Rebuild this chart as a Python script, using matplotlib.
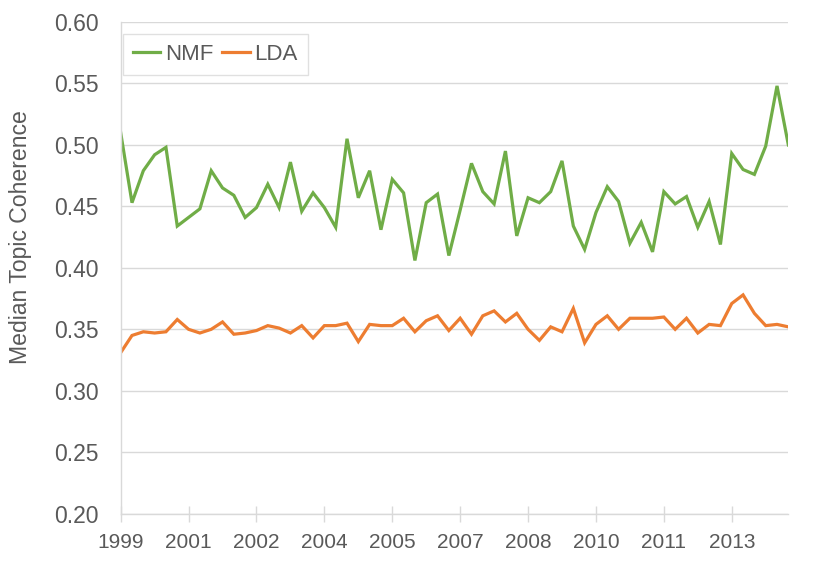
import matplotlib
matplotlib.use('Agg')
import matplotlib.pyplot as plt

# median topic coherence, one value per quarter
nmf = [0.510, 0.453, 0.479, 0.492, 0.498, 0.434, 0.441, 0.448, 0.479, 0.465,
       0.459, 0.441, 0.449, 0.468, 0.449, 0.486, 0.446, 0.461, 0.449, 0.433,
       0.505, 0.457, 0.479, 0.431, 0.472, 0.461, 0.406, 0.453, 0.460, 0.410,
       0.447, 0.485, 0.462, 0.452, 0.495, 0.426, 0.457, 0.453, 0.462, 0.487,
       0.434, 0.415, 0.445, 0.466, 0.454, 0.420, 0.437, 0.413, 0.462, 0.452,
       0.458, 0.433, 0.454, 0.419, 0.493, 0.480, 0.476, 0.499, 0.548, 0.500]
lda = [0.331, 0.345, 0.348, 0.347, 0.348, 0.358, 0.350, 0.347, 0.350, 0.356,
       0.346, 0.347, 0.349, 0.353, 0.351, 0.347, 0.353, 0.343, 0.353, 0.353,
       0.355, 0.340, 0.354, 0.353, 0.353, 0.359, 0.348, 0.357, 0.361, 0.349,
       0.359, 0.346, 0.361, 0.365, 0.356, 0.363, 0.350, 0.341, 0.352, 0.348,
       0.367, 0.339, 0.354, 0.361, 0.350, 0.359, 0.359, 0.359, 0.360, 0.350,
       0.359, 0.347, 0.354, 0.353, 0.371, 0.378, 0.363, 0.353, 0.354, 0.352]
tick_labels = ['1999', '2001', '2002', '2004', '2005', '2007', '2008', '2010', '2011', '2013']

plt.rcParams['font.family'] = ['Liberation Sans', 'DejaVu Sans']
grey = '#d9d9d9'
txt = '#595959'

fig = plt.figure(figsize=(8.3, 5.62), dpi=100)
ax = fig.add_axes([0.1454, 0.0859, 0.8044, 0.875])

x = list(range(len(nmf)))
ax.plot(x, nmf, color='#70ad47', lw=2.3, label='NMF', solid_joinstyle='miter')
ax.plot(x, lda, color='#ed7d31', lw=2.3, label='LDA', solid_joinstyle='miter')

ax.set_xlim(0, len(nmf) - 1)
ax.set_ylim(0.20, 0.60)
ax.set_yticks([0.20, 0.25, 0.30, 0.35, 0.40, 0.45, 0.50, 0.55, 0.60])
ax.set_yticklabels(['%.2f' % v for v in ax.get_yticks()])
ax.set_xticks(range(0, 6 * len(tick_labels), 6))
ax.set_xticklabels(tick_labels)

ax.grid(axis='y', color=grey, lw=1.0)
ax.set_axisbelow(True)
for s in ['top', 'right']:
    ax.spines[s].set_visible(False)
for s in ['left', 'bottom']:
    ax.spines[s].set_color(grey)
    ax.spines[s].set_linewidth(1.0)

ax.tick_params(axis='y', length=0, pad=16, labelsize=16.5, labelcolor=txt)
ax.tick_params(axis='x', direction='inout', length=12, width=1.0, color=grey,
               pad=8, labelsize=15, labelcolor=txt)
ax.set_ylabel('Median Topic Coherence', fontsize=16.6, color=txt)
ax.yaxis.set_label_coords(-0.133, 0.563)

leg = ax.legend(loc='upper left', bbox_to_anchor=(0.003, 0.976), borderaxespad=0,
                ncol=2, fontsize=16, frameon=True, fancybox=False, edgecolor=grey,
                handlelength=1.25, handletextpad=0.2, columnspacing=0.4,
                borderpad=0.45, labelcolor=txt)
leg.get_frame().set_linewidth(1.0)

fig.savefig('out.png', dpi=100)
